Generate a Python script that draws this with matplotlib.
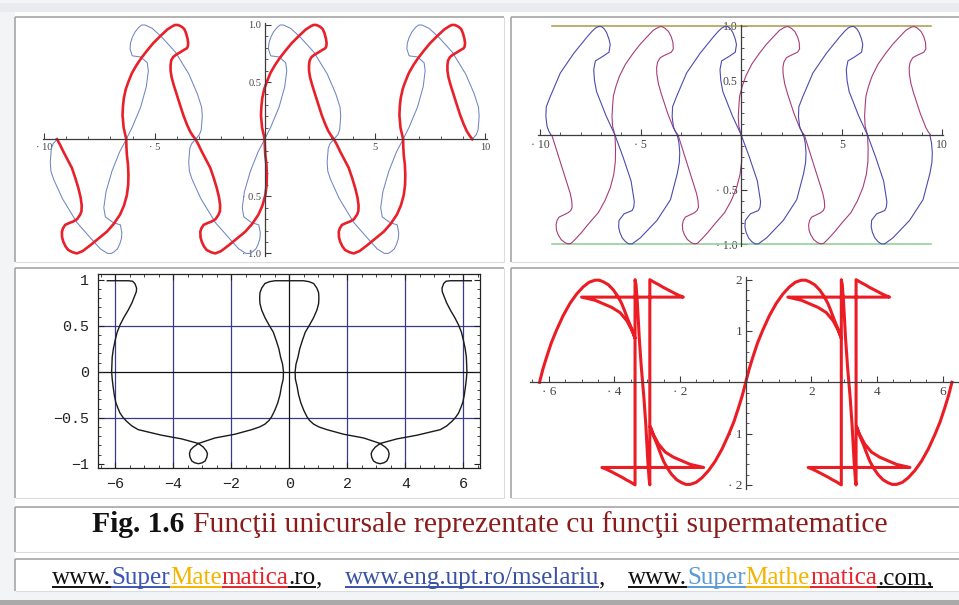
import numpy as np
import matplotlib.pyplot as plt
from matplotlib.patches import Rectangle
from matplotlib.lines import Line2D
from matplotlib.ticker import MultipleLocator

W, H = 959, 605
PERIOD = 2 * np.pi

# ---- top left: thick red curve (one period, split at x = pi) and thin blue curve
red1_rise_x = [0.00, -0.12, -0.17, -0.15, -0.11, -0.02, 0.09, 0.26, 0.47, 0.68, 0.92, 1.22,
               1.53, 1.86, 2.10, 2.21, 2.35, 2.51, 2.63, 2.71, 2.78, 2.81, 2.79, 2.74,
               2.60, 2.44, 2.26, 2.13, 2.04, 2.01, 2.01, 2.06, 2.16, 2.29, 2.44, 2.59,
               2.75, 2.89, 3.02, 3.14]
red1_rise_y = [0.00, 0.10, 0.21, 0.29, 0.36, 0.44, 0.50, 0.58, 0.65, 0.71, 0.77, 0.84,
               0.90, 0.96, 0.99, 1.00, 1.00, 0.985, 0.965, 0.93, 0.88, 0.84, 0.81, 0.795,
               0.78, 0.76, 0.74, 0.72, 0.69, 0.65, 0.60, 0.54, 0.47, 0.39, 0.30, 0.21,
               0.13, 0.07, 0.03, 0.00]
red1_fall_x = [3.14, 3.28, 3.43, 3.62, 3.81, 3.97, 4.11, 4.21, 4.26, 4.25, 4.19, 4.05,
               3.88, 3.68, 3.51, 3.41, 3.36, 3.37, 3.43, 3.53, 3.65, 3.85, 4.04, 4.30,
               4.64, 5.02, 5.40, 5.72, 6.00, 6.18, 6.31, 6.37, 6.38, 6.36, 6.31, 6.29, 6.28]
red1_fall_y = [0.00, -0.05, -0.11, -0.18, -0.25, -0.34, -0.43, -0.51, -0.58, -0.63, -0.66, -0.70,
               -0.72, -0.735, -0.75, -0.78, -0.81, -0.86, -0.90, -0.94, -0.97, -0.99, -1.00, -0.98,
               -0.93, -0.87, -0.81, -0.74, -0.66, -0.58, -0.49, -0.40, -0.31, -0.22, -0.14, -0.07, 0.00]

blue1_x = [-3.14, -3.32, -3.40, -3.45, -3.42, -3.30, -2.90, -2.24, -1.60, -1.18, -0.85, -0.68,
           -0.55, -0.40, -0.30, -0.22, -0.20, -0.27, -0.60, -0.95, -1.02, -0.92, -0.65, -0.30,
           0.00, 0.27, 0.65, 0.91, 1.00, 0.95, 0.65, 0.27, 0.17, 0.19, 0.27, 0.40, 0.57,
           0.70, 0.85, 1.18, 1.63, 2.24, 2.84, 3.22, 3.42, 3.45, 3.40, 3.32, 3.14]
blue1_y = [0.00, -0.04, -0.08, -0.20, -0.28, -0.35, -0.52, -0.73, -0.87, -0.96, -1.00, -1.00,
           -0.985, -0.96, -0.92, -0.87, -0.82, -0.75, -0.73, -0.68, -0.60, -0.46, -0.28, -0.11,
           0.00, 0.105, 0.28, 0.46, 0.60, 0.67, 0.72, 0.73, 0.79, 0.84, 0.89, 0.94, 0.98,
           1.00, 1.00, 0.97, 0.89, 0.76, 0.57, 0.40, 0.28, 0.20, 0.08, 0.04, 0.00]
blue1_shifts = [-1, 0, 1]

# ---- top right: purple curve (split at x = pi), blue curve, and the two rails
purple2_rise_x = [0.00, -0.12, -0.15, -0.12, -0.08, 0.05, 0.22, 0.52, 0.90, 1.24, 1.59, 1.90,
                  2.17, 2.33, 2.48, 2.66, 2.80, 2.88, 2.90, 2.80, 2.62, 2.45, 2.25, 2.12,
                  2.07, 2.08, 2.16, 2.30, 2.46, 2.62, 2.77, 2.90, 3.02, 3.14]
purple2_rise_y = [0.00, 0.08, 0.17, 0.27, 0.36, 0.45, 0.54, 0.65, 0.75, 0.83, 0.90, 0.96,
                  0.99, 0.995, 0.98, 0.95, 0.90, 0.85, 0.79, 0.76, 0.745, 0.73, 0.71, 0.67,
                  0.62, 0.56, 0.47, 0.38, 0.29, 0.20, 0.13, 0.07, 0.03, 0.00]
purple2_fall_x = [3.14, 3.26, 3.40, 3.55, 3.70, 3.88, 4.05, 4.13, 4.15, 4.08, 3.95, 3.72,
                  3.50, 3.40, 3.35, 3.37, 3.45, 3.60, 3.80, 3.96, 4.10, 4.32, 4.62, 5.02,
                  5.45, 5.78, 6.05, 6.22, 6.30, 6.31, 6.28]
purple2_fall_y = [0.00, -0.07, -0.15, -0.24, -0.33, -0.43, -0.53, -0.60, -0.66, -0.69, -0.71, -0.73,
                  -0.75, -0.78, -0.82, -0.87, -0.91, -0.955, -0.985, -0.995, -0.99, -0.95, -0.89, -0.80,
                  -0.71, -0.60, -0.48, -0.36, -0.24, -0.12, 0.00]

blue2_x = [-3.18, -3.30, -3.38, -3.44, -3.42, -3.23, -2.72, -2.05, -1.39, -1.15, -0.98, -0.82,
           -0.68, -0.54, -0.42, -0.30, -0.24, -0.30, -0.62, -0.98, -1.06, -1.02, -0.92, -0.45,
           0.00, 0.40, 0.80, 0.96, 0.93, 0.85, 0.45, 0.20, 0.18, 0.24, 0.36, 0.52, 0.68,
           0.85, 1.26, 2.09, 2.76, 3.10, 3.20, 3.22, 3.18, 3.10]
blue2_y = [0.00, 0.04, 0.08, 0.17, 0.26, 0.35, 0.57, 0.75, 0.90, 0.95, 0.98, 0.995,
           0.995, 0.975, 0.94, 0.88, 0.83, 0.76, 0.72, 0.68, 0.60, 0.50, 0.40, 0.18,
           0.00, -0.20, -0.42, -0.61, -0.66, -0.69, -0.72, -0.78, -0.84, -0.89, -0.94, -0.975, -0.995,
           -0.995, -0.94, -0.78, -0.59, -0.35, -0.25, -0.16, -0.07, 0.00]
blue2_shifts = [-1, 0, 1]

rail2_x = [-9.42, 9.42]
rail2_top = 1.0
rail2_bottom = -1.0

# ---- bottom left: black curve, left half (the right half is its mirror image)
black3_x = [-6.27, -5.55, -5.40, -5.32, -5.26, -5.27, -5.32, -5.42, -5.55, -5.70, -5.83, -5.93,
            -6.00, -6.06, -6.10, -6.12, -6.10, -6.07, -6.03, -5.98, -5.91, -5.83, -5.72, -5.60,
            -5.42, -5.20, -4.80, -4.40, -3.71, -3.13, -2.96, -2.86, -2.82, -2.84, -2.90, -3.00,
            -3.13, -3.26, -3.36, -3.42, -3.44, -3.40, -3.31, -3.13, -2.56, -1.88, -1.30, -1.02,
            -0.84, -0.70, -0.61, -0.50, -0.40, -0.32, -0.27, -0.21, -0.20, -0.23, -0.30, -0.36,
            -0.45, -0.55, -0.70, -0.84, -0.95, -1.01, -1.02, -1.01, -0.95, -0.84, -0.68, -0.49, 0.00]
black3_y = [0.99, 0.99, 0.985, 0.96, 0.91, 0.87, 0.83, 0.75, 0.67, 0.59, 0.51, 0.43,
            0.34, 0.25, 0.16, 0.00, -0.08, -0.16, -0.25, -0.33, -0.39, -0.45, -0.50, -0.54,
            -0.59, -0.63, -0.66, -0.69, -0.73, -0.78, -0.82, -0.86, -0.89, -0.93, -0.97, -0.99,
            -1.00, -0.99, -0.97, -0.93, -0.89, -0.85, -0.82, -0.78, -0.72, -0.68, -0.63, -0.60,
            -0.57, -0.53, -0.49, -0.42, -0.34, -0.25, -0.16, -0.08, 0.00, 0.08, 0.16, 0.25,
            0.34, 0.43, 0.51, 0.59, 0.67, 0.74, 0.80, 0.86, 0.91, 0.96, 0.98, 0.99, 0.99]
grid3_x = [-6, -4, -2, 2, 4, 6]
grid3_y = [-0.5, 0.5]

# ---- bottom right: thick red curve over one period [-2pi, 0]
red4_x = [-6.28, -6.18, -6.06, -5.92, -5.76, -5.56, -5.35, -5.15, -4.95, -4.77, -4.59, -4.46,
          -4.34, -4.18, -4.03, -3.90, -3.78, -3.68, -3.58, -3.47, -3.37,
          -3.47, -3.62, -3.83, -4.08, -4.59, -5.00,
          -1.90, -2.02, -2.15, -2.33, -2.51, -2.64, -2.76, -2.85, -2.92,
          -2.92,
          -2.94, -2.98, -3.04, -3.10, -3.14, -3.18, -3.24, -3.30, -3.34, -3.37,
          -3.37,
          -3.43, -3.52, -3.64, -3.77, -3.95, -4.13, -4.26, -4.38,
          -1.28, -1.69, -2.20, -2.45, -2.66, -2.81, -2.91,
          -2.81, -2.70, -2.60, -2.50, -2.38, -2.25, -2.10, -1.94, -1.82, -1.69, -1.51,
          -1.33, -1.13, -0.93, -0.72, -0.52, -0.36, -0.22, -0.10, 0.00]
red4_y = [0.00, 0.25, 0.50, 0.77, 1.02, 1.30, 1.54, 1.72, 1.86, 1.95, 1.99, 1.99,
          1.96, 1.90, 1.80, 1.68, 1.54, 1.38, 1.21, 1.04, 0.86,
          1.02, 1.20, 1.36, 1.46, 1.60, 1.66,
          1.66, 1.69, 1.73, 1.79, 1.85, 1.90, 1.94, 1.975, 2.00,
          -2.00,
          -1.90, -1.55, -0.85, -0.30, 0.00, 0.30, 0.85, 1.55, 1.90, 2.00,
          -2.00,
          -1.975, -1.94, -1.90, -1.85, -1.79, -1.73, -1.69, -1.66,
          -1.66, -1.60, -1.46, -1.36, -1.20, -1.02, -0.86,
          -1.04, -1.21, -1.38, -1.54, -1.68, -1.80, -1.90, -1.96, -1.99, -1.99, -1.95,
          -1.86, -1.72, -1.54, -1.30, -1.02, -0.77, -0.50, -0.25, 0.00]
red4_shifts = [0, 1]

# ---- caption and links
caption_parts = [('Fig. 1.6', '#111111', 'bold', False),
                 ('0.3', None, None, False),
                 ('Funcţii unicursale reprezentate cu funcţii supermatematice', '#8a1c1c', 'normal', False)]
link_parts = [('www.', '#111111', 'normal', True),
              ('Super', '#3c54b2', 'normal', True),
              ('Mate', '#f4b400', 'normal', True),
              ('matica', '#e8222a', 'normal', True),
              ('.ro', '#111111', 'normal', True),
              (',', '#111111', 'normal', False),
              ('0.9', None, None, False),
              ('www.eng.upt.ro/mselariu', '#3a52a4', 'normal', True),
              (',', '#111111', 'normal', False),
              ('0.9', None, None, False),
              ('www.', '#111111', 'normal', True),
              ('Super', '#5b9bd5', 'normal', True),
              ('Mathe', '#f4b400', 'normal', True),
              ('matica', '#e8222a', 'normal', True),
              ('.com,', '#111111', 'normal', True)]


def fx(x):
    return x / W


def fy(y):
    return 1 - y / H


fig = plt.figure(figsize=(W / 100, H / 100), dpi=100)
fig.patch.set_facecolor('#f3f4f6')


def rect(x0, y0, x1, y1, color, z=-3):
    fig.add_artist(Rectangle((fx(x0), fy(y1)), (x1 - x0) / W, (y1 - y0) / H,
                             transform=fig.transFigure, fc=color, ec='none', zorder=z))


def hline(x0, x1, y, color, lw):
    fig.add_artist(Line2D([fx(x0), fx(x1)], [fy(y), fy(y)], color=color, lw=lw,
                          solid_capstyle='butt', zorder=-1))


def vline(x, y0, y1, color, lw):
    fig.add_artist(Line2D([fx(x), fx(x)], [fy(y0), fy(y1)], color=color, lw=lw,
                          solid_capstyle='butt', zorder=-1))


def cell(x0, y0, x1, y1):
    hline(x0, x1, y0, '#a6a6a6', 1.2)
    vline(x0, y0, y1, '#a6a6a6', 1.2)
    hline(x0, x1, y1, '#dcdcdc', 0.8)
    vline(x1, y0, y1, '#dcdcdc', 0.8)


# page background, table area and cell borders
rect(0, 3, W, 12, '#e9ebee')
rect(15, 12, W, 592, 'white', z=-2)
rect(0, 600, W, H, '#a9a9a9')
cell(15, 16.5, 504, 262)
cell(511, 16.5, W + 2, 262)
cell(15, 268, 504, 498)
cell(511, 268, W + 2, 498)
cell(15, 507, W + 2, 552)
cell(15, 559, W + 2, 591)


def axes_px(left, top, right, bottom):
    ax = fig.add_axes([fx(left), fy(bottom), (right - left) / W, (bottom - top) / H])
    ax.set_facecolor('none')
    return ax


def origin_axes(ax, xlim, ylim, xt, xl, yt, yl, xminor, yminor, fs):
    ax.set_xlim(*xlim)
    ax.set_ylim(*ylim)
    ax.spines['top'].set_visible(False)
    ax.spines['right'].set_visible(False)
    for s in ('left', 'bottom'):
        ax.spines[s].set_position('zero')
        ax.spines[s].set_color('#3c3c3c')
        ax.spines[s].set_linewidth(0.9)
    ax.set_xticks(xt, xl, fontfamily='Liberation Serif', fontsize=fs, color='#444444')
    ax.set_yticks(yt, yl, fontfamily='Liberation Serif', fontsize=fs, color='#444444')
    ax.xaxis.set_minor_locator(MultipleLocator(xminor))
    ax.yaxis.set_minor_locator(MultipleLocator(yminor))
    ax.tick_params(which='major', direction='in', length=4, width=0.8, color='#3c3c3c', pad=2.5)
    ax.tick_params(which='minor', direction='in', length=2, width=0.6, color='#3c3c3c')


def join(pieces):
    xs = np.concatenate([np.asarray(x) + k * PERIOD for x, y, k in pieces])
    ys = np.concatenate([np.asarray(y) for x, y, k in pieces])
    return xs, ys


# top left panel
ax1 = axes_px(43.3, 22.7, 486.8, 255.7)
origin_axes(ax1, (-10.05, 10.08), (-1.02, 1.02),
            [-10, -5, 5, 10], ['· 10', '· 5', '5', '10'],
            [-1, -0.5, 0.5, 1], ['· 1.0', '· 0.5', '0.5', '1.0'], 1, 0.1, 7.5)
bx, by = join([(blue1_x, blue1_y, k) for k in blue1_shifts])
ax1.plot(bx, by, color='#6f86c4', lw=0.75, clip_on=False)
rise1 = (red1_rise_x, red1_rise_y)
fall1 = (red1_fall_x, red1_fall_y)
rx, ry = join([(*fall1, -2), (*rise1, -1), (*fall1, -1), (*rise1, 0), (*fall1, 0), (*rise1, 1)])
ax1.plot(rx, ry, color='#e8202a', lw=1.9, clip_on=False, solid_joinstyle='round')

# top right panel
ax2 = axes_px(538.3, 24.9, 943.3, 245.5)
origin_axes(ax2, (-10.1, 10.05), (-1.01, 1.01),
            [-10, -5, 5, 10], ['· 10', '· 5', '5', '10'],
            [-1, -0.5, 0.5, 1], ['· 1.0', '· 0.5', '0.5', '1.0'], 1, 0.1, 8.5)
ax2.plot(rail2_x, [rail2_top] * 2, color='#a89a44', lw=1.1, clip_on=False)
ax2.plot(rail2_x, [rail2_bottom] * 2, color='#8ccb90', lw=1.1, clip_on=False)
rise2 = (purple2_rise_x, purple2_rise_y)
fall2 = (purple2_fall_x, purple2_fall_y)
px_, py_ = join([(*fall2, -2), (*rise2, -1), (*fall2, -1), (*rise2, 0), (*fall2, 0), (*rise2, 1)])
ax2.plot(px_, py_, color='#a83c7a', lw=0.8, clip_on=False)
bx, by = join([(blue2_x, blue2_y, k) for k in blue2_shifts])
ax2.plot(bx, by, color='#4b4bb0', lw=0.8, clip_on=False)

# bottom left panel: framed plot with grid
mono = ['Liberation Mono', 'DejaVu Sans Mono']
ax3 = axes_px(97.7, 274.3, 480, 468.3)
ax3.set_xlim(-6.6, 6.57)
ax3.set_ylim(-1.05, 1.06)
for s in ax3.spines.values():
    s.set_color('#222222')
    s.set_linewidth(0.9)
ax3.set_xticks([-6, -4, -2, 0, 2, 4, 6], ['−6', '−4', '−2', '0', '2', '4', '6'],
               fontfamily=mono, fontsize=10.8, color='#222222')
ax3.set_yticks([-1, -0.5, 0, 0.5, 1], ['−1', '−0.5', '0', '0.5', '1'],
               fontfamily=mono, fontsize=10.8, color='#222222')
ax3.xaxis.set_minor_locator(MultipleLocator(0.5))
ax3.yaxis.set_minor_locator(MultipleLocator(0.1))
ax3.tick_params(which='both', direction='in', top=True, right=True, color='#222222')
ax3.tick_params(which='major', length=4, width=0.8, pad=6)
ax3.tick_params(which='minor', length=2.2, width=0.6)
for gx in grid3_x:
    ax3.axvline(gx, color='#3a3a8a', lw=0.9, zorder=1)
for gy in grid3_y:
    ax3.axhline(gy, color='#3a3a8a', lw=0.9, zorder=1)
ax3.axvline(0, color='#111111', lw=0.9, zorder=1)
ax3.axhline(0, color='#111111', lw=0.9, zorder=1)
hx = np.asarray(black3_x)
hy = np.asarray(black3_y)
ax3.plot(np.concatenate([hx, -hx[::-1]]), np.concatenate([hy, hy[::-1]]),
         color='#1a1a1a', lw=1.0, zorder=2)

# bottom right panel
ax4 = axes_px(530.0, 276.6, 958.4, 488.5)
origin_axes(ax4, (-6.57, 6.48), (-2.07, 2.06),
            [-6, -4, -2, 2, 4, 6], ['· 6', '· 4', '· 2', '2', '4', '6'],
            [-2, -1, 1, 2], ['· 2', '· 1', '1', '2'], 0.5, 0.2, 9.5)
rx, ry = join([(red4_x, red4_y, k) for k in red4_shifts])
ax4.plot(rx, ry, color='#ec1c24', lw=2.2, clip_on=False, solid_joinstyle='round')


# caption lines: coloured runs laid out one after another
def text_run(parts, base_y, target_w, center_x, fam='Liberation Serif'):
    r = fig.canvas.get_renderer()

    def widths(fs):
        out = []
        for txt, color, weight, ul in parts:
            if color is None:
                out.append(float(txt) * fs * 100 / 72)
                continue
            t = fig.text(0, 0, txt, fontsize=fs, fontfamily=fam, fontweight=weight)
            out.append(t.get_window_extent(r).width)
            t.remove()
        return out

    fs = 18 * target_w / sum(widths(18))
    ws = widths(fs)
    x = center_x - sum(ws) / 2
    for (txt, color, weight, ul), w in zip(parts, ws):
        if color is not None:
            fig.text(fx(x), fy(base_y), txt, color=color, fontsize=fs, fontfamily=fam,
                     fontweight=weight, ha='left', va='baseline')
            if ul:
                hline(x, x + w, base_y + 3, color, 1.4)
        x += w


text_run(caption_parts, 532, 796, 490)
text_run(link_parts, 584, 881, 492.5)

fig.savefig('out.png', dpi=100, facecolor=fig.get_facecolor())
